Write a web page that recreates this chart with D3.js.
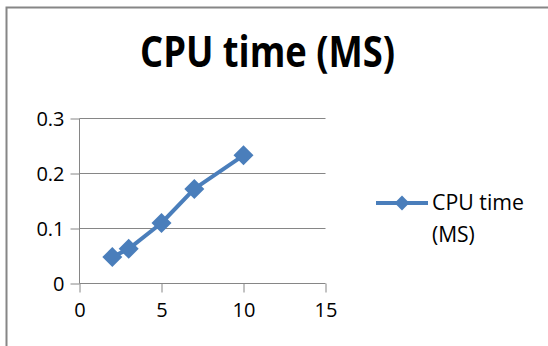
<!DOCTYPE html>
<html>
<head>
<meta charset="utf-8">
<script src="https://cdn.jsdelivr.net/npm/d3@7"></script>
<style>
  body { margin: 0; background: #fff; }
  svg { display: block; }
  text { font-family: "Open Sans", "Noto Sans", sans-serif; fill: #000; }
</style>
</head>
<body>
<svg id="chart" width="548" height="346"></svg>
<script>
// values
var xValues = [2, 3, 5, 7, 10]
var cpuTime = [0.048, 0.063, 0.110, 0.172, 0.233]
var xTicks = [0, 5, 10, 15]
var yTicks = [0, 0.1, 0.2, 0.3]
var seriesName = "CPU time (MS)"
var titleText = "CPU time (MS)"

var svg = d3.select("#chart")
var blue = "#4a7ebb"
var grey = "#868686"

// outer frame (only top and left visible in the crop)
svg.append("path")
  .attr("d", "M6.5,346V7.5H548")
  .attr("fill", "none")
  .attr("stroke", grey)
  .attr("stroke-width", 2)

var x = d3.scaleLinear().domain([0, 15]).range([79.5, 325.5])
var y = d3.scaleLinear().domain([0, 0.3]).range([283.5, 118.5])

// gridlines
svg.append("g")
  .selectAll("line")
  .data(yTicks.slice(1))
  .enter().append("line")
  .attr("x1", x(0)).attr("x2", x(15))
  .attr("y1", function (d) { return y(d) }).attr("y2", function (d) { return y(d) })
  .attr("stroke", grey)

var yAxis = svg.append("g")
  .attr("transform", "translate(" + x(0) + ",0)")
  .call(d3.axisLeft(y).tickValues(yTicks).tickSize(9).tickPadding(6)
    .tickFormat(function (d) { return d === 0 ? "0" : d3.format(".1f")(d) }))

var xAxis = svg.append("g")
  .attr("transform", "translate(0," + y(0) + ")")
  .call(d3.axisBottom(x).tickValues(xTicks).tickSize(9).tickPadding(6).tickFormat(d3.format("d")))

;[xAxis, yAxis].forEach(function (g) {
  g.select(".domain").attr("stroke", grey).attr("d", g === xAxis
    ? "M" + x(0) + ",0H" + x(15)
    : "M0," + y(0.3) + "V" + y(0))
  g.selectAll(".tick line").attr("stroke", grey)
  g.selectAll(".tick text").attr("font-size", 20).attr("fill", "#000")
    .style("font-family", "'Open Sans', sans-serif")
})
yAxis.selectAll(".tick text").attr("dy", "0.36em")
xAxis.selectAll(".tick text").attr("dy", "0.9em")

var pts = xValues.map(function (v, i) { return [v, cpuTime[i]] })

svg.append("path")
  .datum(pts)
  .attr("fill", "none")
  .attr("stroke", blue)
  .attr("stroke-width", 4)
  .attr("stroke-linejoin", "round")
  .attr("d", d3.line().x(function (d) { return x(d[0]) }).y(function (d) { return y(d[1]) }))

var diamond = d3.symbol().type(d3.symbolSquare).size(200)

svg.append("g")
  .selectAll("path")
  .data(pts)
  .enter().append("path")
  .attr("d", diamond)
  .attr("fill", blue)
  .attr("transform", function (d) { return "translate(" + x(d[0]) + "," + y(d[1]) + ") rotate(45)" })

// title (narrow, tall face like the original)
svg.append("text")
  .attr("x", 140)
  .attr("y", 67)
  .attr("font-weight", "bold")
  .attr("font-size", 43)
  .attr("textLength", 255)
  .attr("lengthAdjust", "spacingAndGlyphs")
  .text(titleText)

// legend
var legend = svg.append("g")
legend.append("line")
  .attr("x1", 376).attr("x2", 428).attr("y1", 203).attr("y2", 203)
  .attr("stroke", blue).attr("stroke-width", 4)
legend.append("path")
  .attr("d", d3.symbol().type(d3.symbolSquare).size(110))
  .attr("fill", blue)
  .attr("transform", "translate(402,203) rotate(45)")
var words = seriesName.split(" ")
var lt = legend.append("text").attr("y", 210).attr("font-size", 21)
lt.append("tspan").attr("x", 432).attr("textLength", 92).attr("lengthAdjust", "spacingAndGlyphs")
  .text(words[0] + " " + words[1])
lt.append("tspan").attr("x", 432).attr("dy", 32).text(words[2])
</script>
</body>
</html>
